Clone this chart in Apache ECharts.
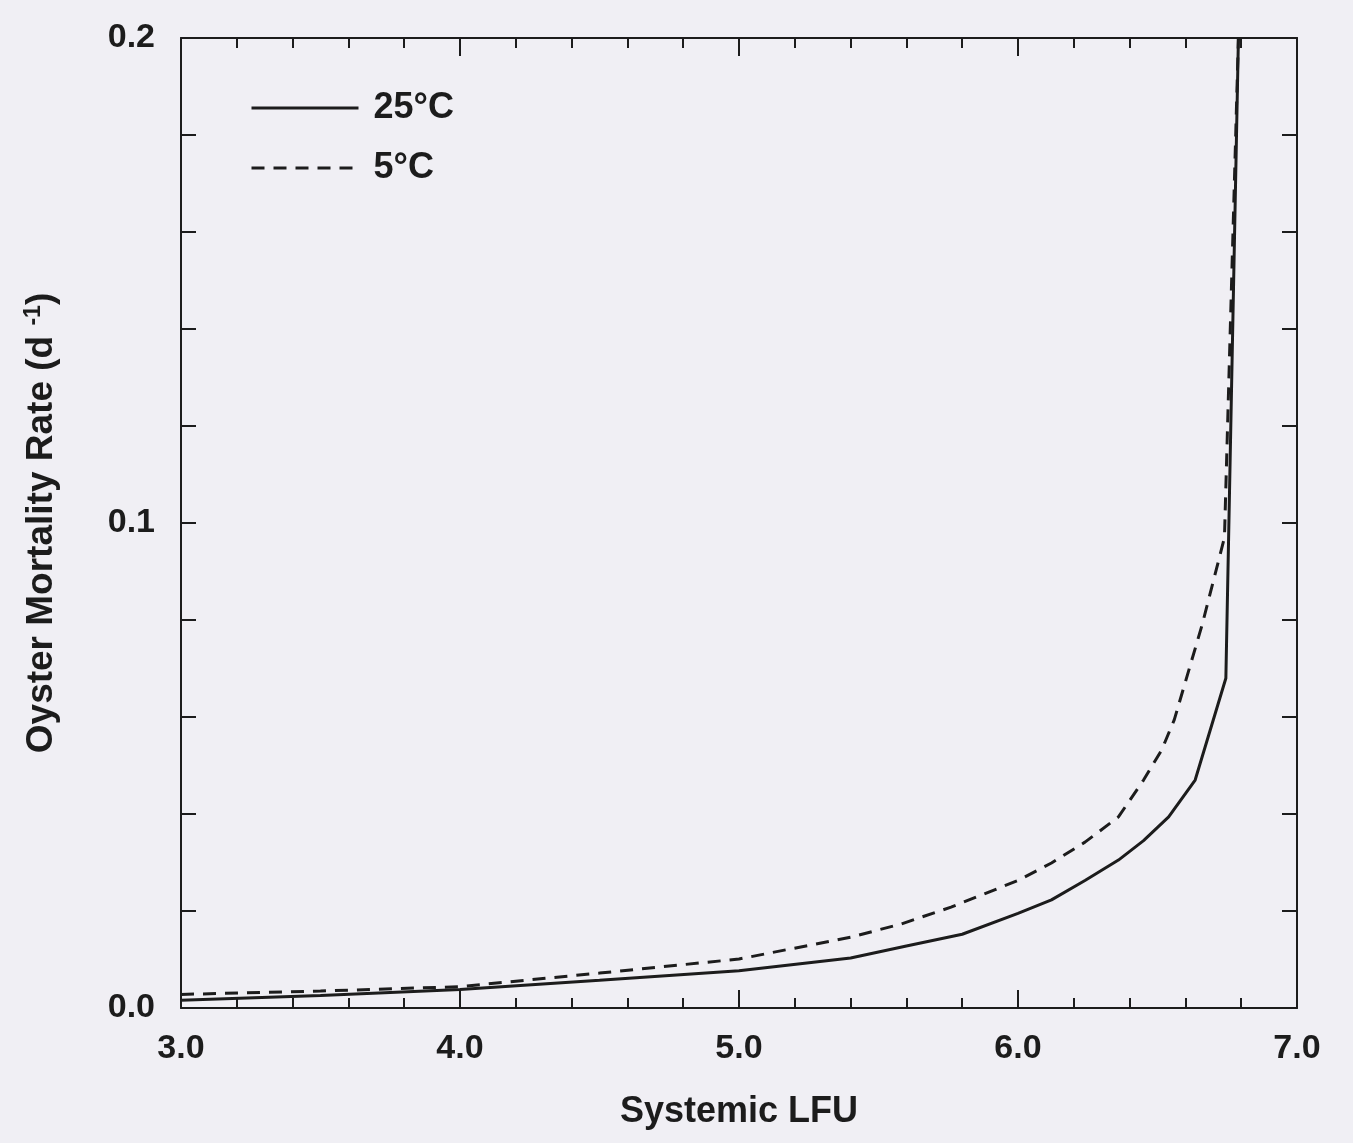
<!DOCTYPE html>
<html>
<head>
<meta charset="utf-8">
<script src="https://cdn.jsdelivr.net/npm/echarts@6/dist/echarts.min.js"></script>
<style>
  html, body { margin: 0; padding: 0; background: #f0eff4; }
  #main { width: 1353px; height: 1143px; }
</style>
</head>
<body>
<div id="main"></div>
<script>
var myChart = echarts.init(document.getElementById('main'));

// 25°C curve (solid)
var lfu25 = [3.0, 3.5, 4.0, 4.5, 5.0, 5.4, 5.6, 5.8, 6.0, 6.12, 6.24, 6.36, 6.45, 6.54, 6.635, 6.745, 6.79];
var rate25 = [0.0016, 0.0026, 0.0038, 0.0057, 0.0077, 0.0103, 0.0128, 0.0152, 0.0195, 0.0223, 0.0263, 0.0305, 0.0345, 0.0394, 0.047, 0.068, 0.2];

// 5°C curve (dashed)
var lfu5 = [3.0, 3.5, 4.0, 4.5, 5.0, 5.4, 5.58, 5.76, 6.0, 6.12, 6.24, 6.36, 6.45, 6.515, 6.56, 6.66, 6.74, 6.79];
var rate5 = [0.0028, 0.0035, 0.0044, 0.0072, 0.0101, 0.0146, 0.0173, 0.0208, 0.0263, 0.0299, 0.0342, 0.0394, 0.047, 0.0532, 0.0594, 0.079, 0.097, 0.2];

var seriesNames = ['25°C', '5°C'];

function pairs(xs, ys) {
  return xs.map(function (x, i) { return [x, ys[i]]; });
}

var ink = '#1c1c1c';
var font = 'Liberation Sans';

// only 0.0, 0.1, 0.2 get a label, every 0.02 gets a tick
var yLabel = function (v) {
  var k = Math.round(v * 100);
  return k % 10 === 0 ? (k / 100).toFixed(1) : '';
};

var frameLine = { show: true, onZero: false, lineStyle: { color: ink, width: 2 } };

option = {
  backgroundColor: '#f0eff4',
  animation: false,
  grid: {
    left: 181,
    right: 56,
    top: 38,
    bottom: 135
  },
  legend: {
    orient: 'vertical',
    left: 245,
    top: 83,
    itemWidth: 107,
    itemHeight: 14,
    itemGap: 20,
    data: seriesNames,
    itemStyle: { opacity: 0 },
    lineStyle: { width: 3 },
    textStyle: {
      fontFamily: font,
      fontWeight: 'bold',
      fontSize: 36,
      lineHeight: 40,
      color: ink,
      padding: [0, 0, 0, 10]
    }
  },
  xAxis: [
    {
      type: 'value',
      position: 'bottom',
      min: 3,
      max: 7,
      interval: 1,
      name: 'Systemic LFU',
      nameLocation: 'middle',
      nameGap: 86,
      nameTextStyle: { fontFamily: font, fontWeight: 'bold', fontSize: 36, color: ink },
      axisLine: frameLine,
      axisTick: { inside: true, length: 18, lineStyle: { color: ink, width: 2 } },
      minorTick: { show: true, splitNumber: 5, length: 10, lineStyle: { color: ink, width: 2 } },
      axisLabel: {
        margin: 24,
        fontFamily: font,
        fontWeight: 'bold',
        fontSize: 34,
        color: ink,
        formatter: function (v) { return v.toFixed(1); }
      },
      splitLine: { show: false }
    },
    {
      type: 'value',
      position: 'top',
      min: 3,
      max: 7,
      interval: 1,
      axisLine: frameLine,
      axisTick: { inside: true, length: 18, lineStyle: { color: ink, width: 2 } },
      minorTick: { show: true, splitNumber: 5, length: 10, lineStyle: { color: ink, width: 2 } },
      axisLabel: { show: false },
      splitLine: { show: false }
    }
  ],
  yAxis: [
    {
      type: 'value',
      position: 'left',
      min: 0,
      max: 0.2,
      interval: 0.02,
      name: 'Oyster Mortality Rate (d {sup|-1})',
      nameLocation: 'middle',
      nameGap: 120,
      nameTextStyle: {
        fontFamily: font,
        fontWeight: 'bold',
        fontSize: 37,
        color: ink,
        rich: {
          sup: { fontFamily: font, fontWeight: 'bold', fontSize: 23, color: ink, verticalAlign: 'top', padding: [0, 0, 16, 0] }
        }
      },
      axisLine: frameLine,
      axisTick: { inside: true, length: 15, lineStyle: { color: ink, width: 2 } },
      axisLabel: {
        margin: 26,
        fontFamily: font,
        fontWeight: 'bold',
        fontSize: 34,
        color: ink,
        formatter: yLabel
      },
      splitLine: { show: false }
    },
    {
      type: 'value',
      position: 'right',
      min: 0,
      max: 0.2,
      interval: 0.02,
      axisLine: frameLine,
      axisTick: { inside: true, length: 15, lineStyle: { color: ink, width: 2 } },
      axisLabel: { show: false },
      splitLine: { show: false }
    }
  ],
  series: [
    {
      name: seriesNames[0],
      type: 'line',
      symbol: 'none',
      color: ink,
      lineStyle: { color: ink, width: 3, type: 'solid' },
      data: pairs(lfu25, rate25)
    },
    {
      name: seriesNames[1],
      type: 'line',
      symbol: 'none',
      color: ink,
      lineStyle: { color: ink, width: 3, type: [13, 9] },
      data: pairs(lfu5, rate5)
    }
  ]
};

option && myChart.setOption(option);
</script>
</body>
</html>
